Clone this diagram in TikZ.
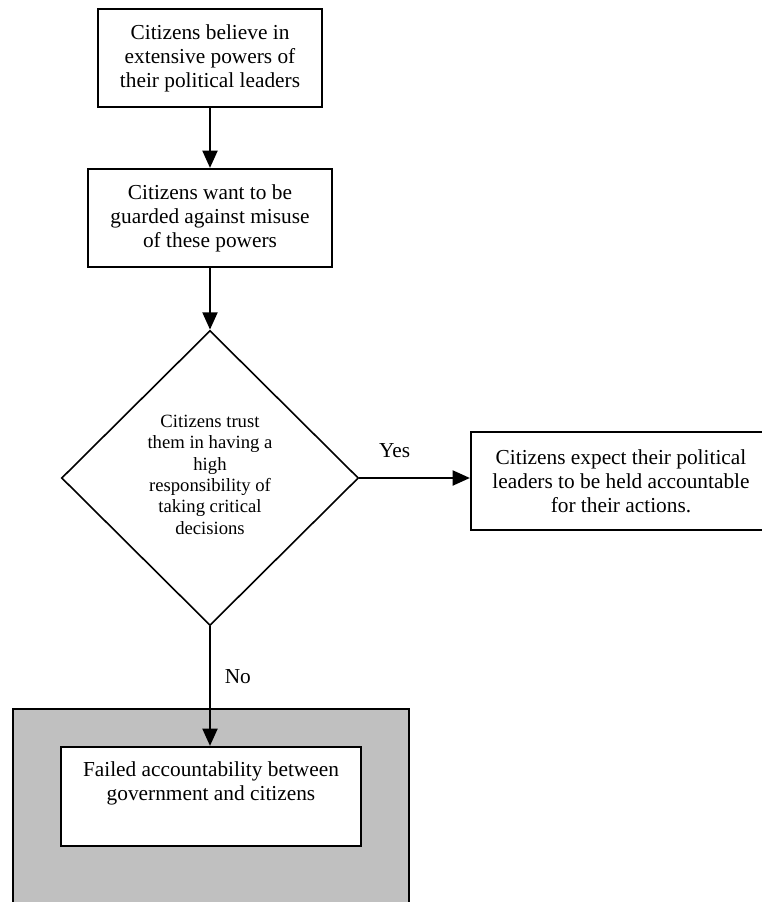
\documentclass[tikz,border=0pt]{standalone}
\usepackage{fontspec}
\setmainfont{Liberation Serif}
\usetikzlibrary{arrows.meta,shapes.geometric}
\definecolor{shade}{HTML}{C0C0C0}
\begin{document}
\begin{tikzpicture}[x=0.75pt,y=-0.75pt,
  stepbox/.style={draw,line width=1.5pt,fill=white,align=center,inner sep=0pt,
    font=\fontsize{16}{18}\selectfont,minimum height=73.5pt},
  decision/.style={draw,shape=diamond,line width=1.2pt,inner sep=0pt,
    minimum width=222.75pt,minimum height=221.25pt,align=center,
    font=\fontsize{14}{16}\selectfont},
  flow/.style={line width=2.2pt,-{Triangle[length=13pt,width=11pt]}},
  lbl/.style={font=\fontsize{16}{18}\selectfont,inner sep=0pt}]
\useasboundingbox (0,0) rectangle (762,902);
\clip (0,0) rectangle (762,902);

% shaded frame around the outcome box
\node[draw,line width=1.5pt,fill=shade,minimum width=297pt,minimum height=154.5pt,
  inner sep=0pt] (frame) at (211,812) {};

\node[stepbox,minimum width=168pt] (believe) at (210,58)
  {Citizens believe in\\extensive powers of\\their political leaders};
\node[stepbox,minimum width=183pt] (guard) at (210,218)
  {Citizens want to be\\guarded against misuse\\of these powers};
\node[decision] (trust) at (210,478)
  {Citizens trust\\them in having a\\high\\responsibility of\\taking critical\\decisions\rule[-5pt]{0pt}{5pt}};
\node[stepbox,minimum width=225pt] (expect) at (621,481)
  {Citizens expect their political\\leaders to be held accountable\\for their actions.};
\node[stepbox,minimum width=225pt,minimum height=74.25pt] (fail) at (211,796.5)
  {Failed accountability between\\government and citizens\\\strut};

\draw[flow] (believe.south) -- (guard.north);
\draw[flow] (guard.south) -- (trust.north);
\draw[flow] (trust.east) -- (trust.east -| expect.west)
  node[lbl,pos=0.32,above=14pt] {Yes};
\draw[flow] (trust.south) -- (trust.south |- fail.north)
  node[lbl,pos=0.42,right=10pt] {No};
\end{tikzpicture}
\end{document}
